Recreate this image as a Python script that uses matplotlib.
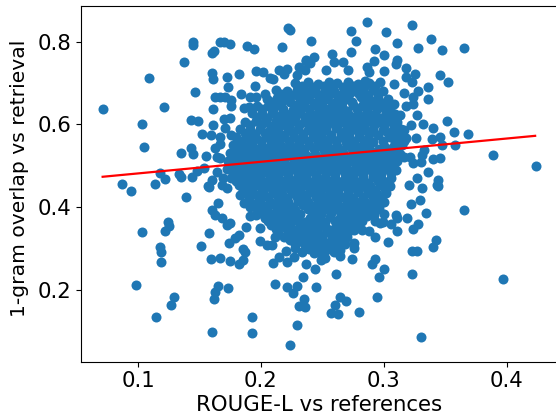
import matplotlib
matplotlib.use("Agg")
import matplotlib.pyplot as plt

outer_x = [.0712,.109,.121,.103,.105,.137,.146,.145,.145,.160,.162,.167,.170,.175,.189,.194,.217,.222,.224,.241,
.160,.161,.172,.182,.173,.196,.202,.207,.210,.215,.221,.219,.229,.231,.236,.237,.240,.243,.195,.163,.167,.171,.176,.176,
.184,.191,.196,.203,.161,.186,.190,.143,.149,.161,.170,.175,.171,.152,.159,.167,.176,.143,.135,.145,.155,.163,.167,.164,.167,
.154,.148,.144,.133,.135,.118,.122,.114,.087,.094,.164,.169,.160,.157,.175,.177,
.139,.158,.165,.160,.163,.168,.172,.175,.188,.158,.103,.124,.125,.122,.118,.119,.119,.151,.174,.179,.182,.185,.187,.159,.167,.175,.185,.182,
.098,.129,.127,.115,.165,.163,.162,.173,.160,.193,.193,.224,.229,.211,.221,.229,.226,.234,.245,.235,.231,.236,
.210,.221,.215,.220,.227,.237,.244,.242,.199,.205,.209,.211,.221,.234,.235,.245,.199,.191,.196,.203,.186,.183,.172,.168,.191,.198,.205,.210,
.273,.286,.277,.302,.323,.311,.338,.328,.347,.365,.258,.273,.293,.300,.292,.267,.259,.237,.311,.310,.286,.288,.300,.318,.325,.318,.323,.346,.352,.336,.336,
.253,.271,.285,.297,.308,.328,.324,.316,.324,.318,.308,.327,.332,.340,.351,.357,.368,.346,.358,.326,.339,.347,.340,.346,.324,.330,.389,.424,.336,.327,.344,.343,.331,.320,
.331,.333,.321,.316,.322,.313,.303,.344,.329,.322,.334,.365,.319,.310,.311,.300,.292,.285,.328,.324,.311,.306,.299,.293,.297,
.303,.293,.288,.279,.276,.282,.342,.340,.323,.327,.276,.276,.274,.293,.290,.300,.296,.323,.397,.294,.264,.269,.260,.257,.263,.280,.330,
.261,.249,.252,.248,.264,.264,.260,.267,.253,.247,.234,.267,.270,.245,.259,.255,.238,.270,.274]
outer_y = [.636,.713,.641,.600,.546,.750,.679,.800,.792,.773,.778,.800,.800,.793,.789,.781,.787,.833,.829,.801,
.723,.710,.714,.722,.689,.730,.726,.712,.710,.732,.733,.722,.718,.739,.731,.754,.749,.762,.692,.666,.665,.666,.659,.644,
.673,.665,.666,.673,.636,.639,.641,.610,.609,.599,.612,.614,.591,.576,.575,.570,.574,.542,.530,.527,.524,.542,.552,.520,.518,
.494,.488,.473,.480,.473,.481,.467,.456,.455,.439,.485,.469,.465,.451,.502,.489,
.425,.449,.409,.393,.381,.373,.357,.361,.352,.336,.340,.363,.355,.343,.302,.291,.266,.306,.314,.324,.332,.298,.290,.274,.277,.269,.272,.261,
.211,.183,.163,.134,.210,.195,.178,.203,.097,.133,.095,.065,.114,.213,.206,.209,.191,.230,.207,.178,.161,.157,
.264,.268,.278,.294,.280,.261,.251,.304,.318,.308,.307,.328,.328,.316,.324,.342,.348,.378,.381,.373,.409,.429,.445,.453,.401,.417,.401,.369,
.826,.847,.801,.822,.840,.796,.806,.785,.780,.785,.769,.774,.781,.767,.754,.750,.751,.756,.755,.745,.739,.726,.730,.735,.722,.714,.703,.718,.703,.691,.660,
.731,.731,.705,.703,.697,.680,.667,.676,.649,.644,.648,.622,.600,.591,.609,.581,.576,.568,.550,.566,.564,.550,.515,.518,.506,.508,.525,.500,.484,.471,.464,.453,.445,.452,
.526,.538,.522,.586,.598,.622,.635,.451,.417,.407,.385,.393,.373,.381,.373,.382,.381,.385,.358,.346,.341,.358,.363,.365,.361,
.315,.328,.341,.366,.344,.344,.320,.304,.294,.294,.312,.300,.274,.274,.262,.249,.230,.237,.225,.183,.183,.172,.162,.143,.141,.146,.085,
.238,.272,.276,.288,.281,.296,.312,.312,.308,.316,.322,.340,.328,.340,.336,.345,.357,.373,.389]

core_x = [.228,.238,.246,.255,.262,.271,.279,.288,
.212,.221,.229,.237,.244,.252,.259,.268,.276,.283,.291,.299,
.205,.213,.219,.231,.238,.247,.254,.263,.270,.281,.288,.295,.303,
.197,.206,.214,.228,.235,.243,.250,.258,.266,.275,.282,.290,.297,.306,
.193,.201,.209,.217,.224,.232,.241,.248,.256,.263,.271,.279,.286,.293,.302,.309,
.187,.196,.203,.212,.219,.227,.235,.242,.250,.258,.266,.273,.280,.288,.296,.304,.311,
.183,.191,.199,.207,.214,.222,.230,.238,.245,.253,.261,.269,.276,.284,.291,.299,.307,.314,
.180,.189,.196,.204,.211,.219,.227,.234,.242,.250,.257,.265,.272,.280,.287,.305,.312,.318,
.177,.186,.193,.201,.208,.216,.224,.231,.239,.247,.254,.262,.270,.277,.285,.300,.307,.315,
.175,.183,.191,.199,.206,.214,.221,.229,.236,.244,.252,.259,.267,.275,.282,.290,.298,.305,.313,
.173,.182,.190,.197,.204,.212,.219,.227,.235,.242,.250,.257,.265,.273,.280,.288,.296,.303,.311,
.172,.181,.189,.196,.203,.211,.218,.226,.233,.241,.249,.256,.264,.271,.279,.287,.294,.302,.310,
.176,.184,.192,.199,.207,.214,.222,.229,.237,.245,.252,.260,.268,.275,.283,.291,.298,.306,
.182,.190,.197,.205,.212,.220,.228,.236,.244,.251,.259,.267,.274,.282,.289,.297,.305,
.186,.194,.202,.210,.217,.225,.233,.241,.248,.256,.263,.271,.279,.287,.294,.302,
.191,.199,.207,.215,.222,.230,.238,.246,.254,.262,.270,.277,.285,.292,.300,
.197,.205,.213,.220,.228,.238,.245,.253,.261,.269,.276,.283,.290,.296,
.203,.211,.218,.226,.240,.248,.256,.264,.272,.279,.286,
.208,.216,.224,.232,.241,.249,.263,.270,.277,
.214,.222,.230,.238,.246,.254,.262,.270,
.224,.232,.240,.248,.256,.264,
.228,.239,.247,.255]
core_y = [.700,.702,.698,.701,.699,.702,.697,.700,
.684,.681,.683,.680,.684,.682,.680,.683,.681,.684,.682,.680,
.662,.664,.661,.665,.662,.664,.660,.663,.660,.665,.662,.664,.661,
.645,.643,.646,.647,.644,.646,.643,.645,.642,.646,.644,.647,.643,.645,
.627,.625,.628,.624,.626,.628,.625,.627,.624,.628,.626,.624,.627,.625,.628,.625,
.606,.608,.605,.608,.606,.609,.605,.607,.605,.608,.606,.608,.605,.607,.606,.608,.605,
.588,.586,.589,.587,.590,.586,.588,.586,.589,.587,.590,.586,.588,.586,.589,.587,.585,.588,
.568,.570,.567,.569,.567,.570,.568,.566,.569,.567,.570,.568,.566,.569,.567,.568,.570,.567,
.549,.547,.550,.548,.551,.547,.549,.547,.550,.548,.551,.547,.549,.547,.550,.548,.546,.549,
.530,.528,.531,.529,.527,.530,.528,.531,.529,.527,.530,.528,.531,.529,.527,.530,.528,.531,.529,
.510,.512,.509,.511,.509,.512,.510,.508,.511,.509,.512,.510,.508,.511,.509,.512,.510,.508,.511,
.491,.489,.492,.490,.488,.491,.489,.492,.490,.488,.491,.489,.492,.490,.488,.491,.489,.492,.490,
.471,.473,.470,.472,.470,.473,.471,.469,.472,.470,.473,.471,.469,.472,.470,.473,.471,.469,
.453,.451,.454,.452,.450,.453,.451,.454,.452,.450,.453,.451,.454,.452,.450,.453,.451,
.434,.432,.435,.433,.431,.434,.432,.435,.433,.431,.434,.432,.435,.433,.431,.434,
.413,.415,.412,.414,.412,.415,.413,.411,.414,.412,.415,.413,.411,.414,.412,
.395,.393,.396,.394,.392,.395,.393,.396,.394,.392,.395,.393,.396,.394,
.375,.377,.374,.376,.374,.377,.375,.373,.376,.374,.377,
.357,.355,.358,.356,.354,.357,.355,.358,.356,
.337,.339,.336,.338,.336,.339,.337,.335,
.319,.317,.320,.318,.316,.319,
.300,.298,.301,.299]

dense_x = [.233,.242,.251,.258,.267,.275,.284,.293,
.216,.225,.233,.241,.248,.256,.264,.272,.280,.287,.295,
.209,.216,.224,.234,.243,.250,.259,.266,.274,.284,.292,.299,
.201,.210,.218,.226,.232,.239,.247,.254,.262,.270,.278,.286,.294,.302,
.197,.205,.213,.221,.228,.236,.245,.252,.260,.267,.275,.282,.290,.298,.305,
.191,.200,.208,.216,.223,.231,.239,.246,.254,.262,.270,.277,.284,.292,.300,.308,
.187,.195,.203,.211,.218,.226,.234,.242,.249,.257,.265,.272,.280,.288,.295,.303,.310,
.184,.192,.200,.208,.215,.223,.231,.238,.246,.254,.261,.269,.276,.284,.291,.299,.309,.316,
.181,.189,.197,.205,.212,.220,.228,.235,.243,.251,.258,.266,.274,.281,.289,.296,.304,.311,
.179,.187,.195,.203,.210,.218,.225,.233,.240,.248,.256,.263,.271,.279,.286,.294,.302,.309,.316,
.177,.186,.194,.201,.208,.216,.223,.231,.239,.246,.254,.261,.269,.277,.284,.292,.300,.307,
.177,.185,.193,.200,.207,.215,.222,.230,.237,.245,.253,.260,.268,.275,.283,.291,.298,.306,
.180,.188,.196,.203,.211,.218,.226,.233,.241,.249,.256,.264,.272,.279,.287,.295,.302,
.185,.193,.201,.209,.216,.224,.232,.240,.248,.255,.263,.271,.278,.286,.293,.301,
.190,.198,.206,.214,.221,.229,.237,.245,.252,.260,.267,.275,.283,.291,.298,
.195,.203,.211,.219,.226,.234,.242,.250,.258,.266,.274,.281,.288,.296,
.201,.209,.217,.224,.232,.242,.249,.257,.265,.273,.280,.287,
.206,.214,.222,.230,.236,.244,.252,.260,.268,.275,.282,
.212,.220,.228,.236,.245,.253,.259,.267,.274,
.219,.226,.234,.242,.250,.258,.266,
.228,.236,.244,.252,.260,.268,
.233,.243,.251,.259]
dense_y = [.692,.690,.693,.691,.689,.692,.690,.693,
.673,.671,.674,.672,.670,.673,.671,.674,.672,.670,.673,
.654,.652,.655,.653,.651,.654,.652,.655,.653,.651,.654,.652,
.636,.634,.637,.635,.633,.636,.634,.637,.635,.633,.636,.634,.637,.635,
.617,.615,.618,.616,.614,.617,.615,.618,.616,.614,.617,.615,.618,.616,.614,
.597,.599,.596,.598,.596,.599,.597,.595,.598,.596,.599,.597,.595,.598,.596,.599,
.578,.576,.579,.577,.575,.578,.576,.579,.577,.575,.578,.576,.579,.577,.575,.578,.576,
.559,.557,.560,.558,.556,.559,.557,.560,.558,.556,.559,.557,.560,.558,.556,.559,.557,.560,
.540,.538,.541,.539,.537,.540,.538,.541,.539,.537,.540,.538,.541,.539,.537,.540,.538,.541,
.520,.522,.519,.521,.519,.522,.520,.518,.521,.519,.522,.520,.518,.521,.519,.522,.520,.518,.521,
.501,.499,.502,.500,.498,.501,.499,.502,.500,.498,.501,.499,.502,.500,.498,.501,.499,.502,
.481,.479,.482,.480,.478,.481,.479,.482,.480,.478,.481,.479,.482,.480,.478,.481,.479,.482,
.462,.460,.463,.461,.459,.462,.460,.463,.461,.459,.462,.460,.463,.461,.459,.462,.460,
.442,.444,.441,.443,.441,.444,.442,.440,.443,.441,.444,.442,.440,.443,.441,.444,
.424,.422,.425,.423,.421,.424,.422,.425,.423,.421,.424,.422,.425,.423,.421,
.404,.402,.405,.403,.401,.404,.402,.405,.403,.401,.404,.402,.405,.403,
.385,.383,.386,.384,.382,.385,.383,.386,.384,.382,.385,.383,
.366,.364,.367,.365,.363,.366,.364,.367,.365,.363,.366,
.346,.348,.345,.347,.345,.348,.346,.344,.347,
.328,.326,.329,.327,.325,.328,.326,
.310,.308,.311,.309,.307,.310,
.291,.289,.292,.290]

fit_x = [.0712, .423]
fit_y = [.473, .572]

fig = plt.figure(figsize=(5.56, 4.17), dpi=100)
ax = fig.add_axes([81/556, 1 - 361.6/417, 477/556, 355.6/417])
ax.scatter(outer_x + core_x + dense_x, outer_y + core_y + dense_y, s=52, color="#1f77b4", linewidths=0)
ax.plot(fit_x, fit_y, color="red", lw=1.6)
ax.set_xlim(.0536, .4416)
ax.set_ylim(.026, .886)
ax.set_xticks([.1, .2, .3, .4])
ax.set_yticks([.2, .4, .6, .8])
ax.tick_params(labelsize=15.3)
ax.set_xlabel("ROUGE-L vs references", fontsize=15.3, labelpad=3)
ax.set_ylabel("1-gram overlap vs retrieval", fontsize=14.6, labelpad=6, y=.515)
fig.savefig("out.png", dpi=100)
